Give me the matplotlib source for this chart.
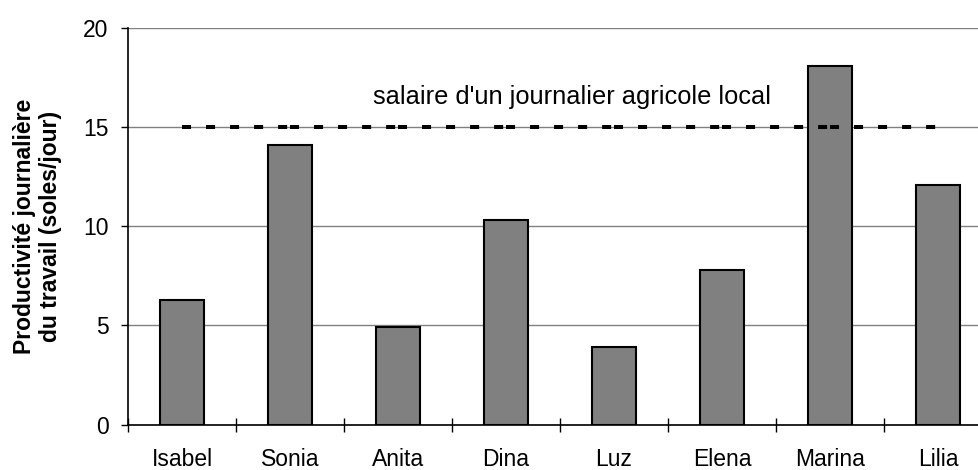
import matplotlib
matplotlib.use("Agg")
import matplotlib.pyplot as plt
import numpy as np

plt.rcParams['font.family'] = ['Liberation Sans', 'DejaVu Sans']
plt.rcParams['lines.scale_dashes'] = False

workers = ["Isabel", "Sonia", "Anita", "Dina", "Luz", "Elena", "Marina", "Lilia"]
productivity = [6.3, 14.1, 4.9, 10.3, 3.9, 7.8, 18.1, 12.1]
wage = [15] * len(workers)
wage_label = "salaire d'un journalier agricole local"
y_ticks = [0, 5, 10, 15, 20]

W, H = 979, 470
fig = plt.figure(figsize=(W / 100, H / 100), dpi=100)
left, right, bottom, top = 128, 992, 424.5, 28
ax = fig.add_axes([left / W, (H - bottom) / H, (right - left) / W, (bottom - top) / H])

x = np.arange(len(workers))
ax.set_xlim(-0.5, len(workers) - 0.5)
ax.set_ylim(0, 20)

# horizontal gridlines
ax.set_yticks(y_ticks)
ax.yaxis.grid(True, color='#808080', linewidth=1.0)
ax.set_axisbelow(True)

ax.bar(x, productivity, width=0.41, color='#808080', edgecolor='black', linewidth=1.5, zorder=2)

# wage reference line, drawn one segment per pair of neighbours
for i in range(len(workers) - 1):
    ax.plot(x[i:i + 2], wage[i:i + 2], color='black', linewidth=2.9,
            dashes=(6.5, 10.8), dash_capstyle='butt', zorder=3)

ax.text(3.61, 16.5, wage_label, ha='center', va='center', fontsize=18.3, color='black')

# axis styling
for s in ['top', 'right']:
    ax.spines[s].set_visible(False)
ax.spines['left'].set_linewidth(1.2)
ax.spines['bottom'].set_linewidth(1.2)

ax.tick_params(axis='y', direction='out', length=5, width=1, labelsize=16.5, pad=9)
ax.set_xticks(np.arange(-0.5, len(workers) - 0.4, 1.0))
ax.set_xticklabels([])
ax.tick_params(axis='x', which='major', direction='inout', length=10, width=1)
ax.set_xticks(x, minor=True)
ax.set_xticklabels(workers, minor=True)
ax.tick_params(axis='x', which='minor', length=0, labelsize=16.5, pad=17)

ax.set_ylabel("Productivité journalière\ndu travail (soles/jour)", fontsize=16.5,
              fontweight='bold', labelpad=15, linespacing=1.2)

fig.savefig("out.png", dpi=100)
